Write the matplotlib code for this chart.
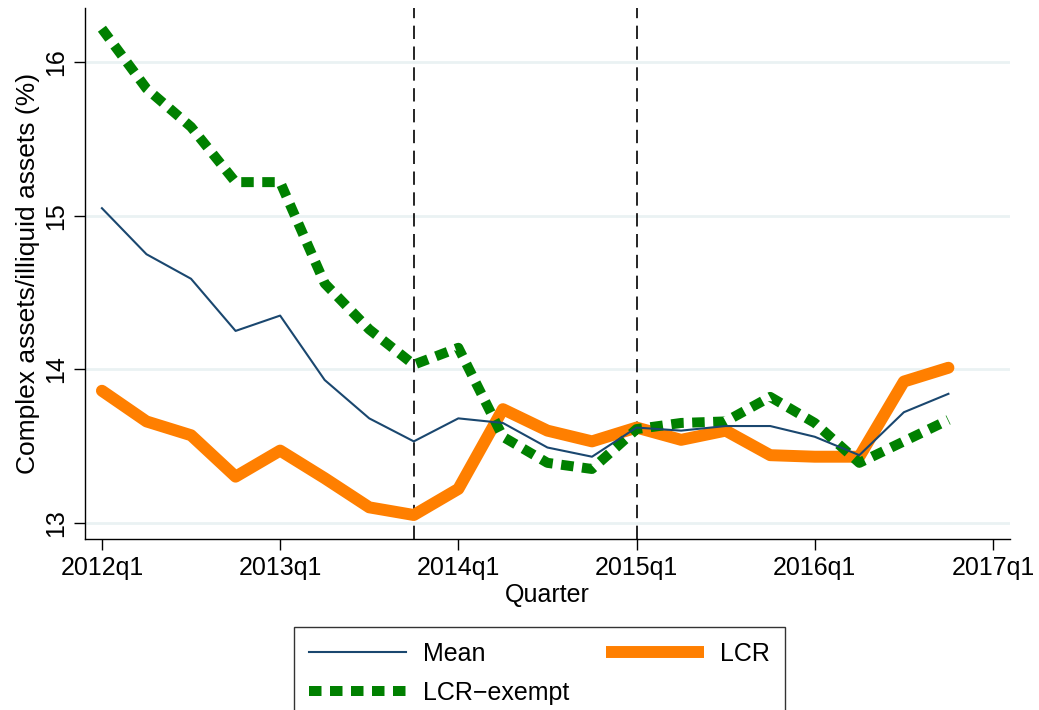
import matplotlib
matplotlib.use("Agg")
import matplotlib.pyplot as plt
from matplotlib.lines import Line2D

# quarterly series, 2012q1 .. 2016q4
quarters = ["2012q1", "2012q2", "2012q3", "2012q4",
            "2013q1", "2013q2", "2013q3", "2013q4",
            "2014q1", "2014q2", "2014q3", "2014q4",
            "2015q1", "2015q2", "2015q3", "2015q4",
            "2016q1", "2016q2", "2016q3", "2016q4"]

mean = [15.05, 14.75, 14.59, 14.25, 14.35, 13.93, 13.68, 13.53,
        13.68, 13.65, 13.49, 13.43, 13.62, 13.60, 13.63, 13.63,
        13.56, 13.44, 13.72, 13.84]

lcr = [13.86, 13.66, 13.57, 13.30, 13.47, 13.29, 13.10, 13.05,
       13.22, 13.74, 13.60, 13.53, 13.62, 13.54, 13.60, 13.44,
       13.43, 13.43, 13.92, 14.01]

lcr_exempt = [16.22, 15.83, 15.58, 15.22, 15.22, 14.56, 14.26, 14.03,
              14.14, 13.56, 13.39, 13.35, 13.61, 13.65, 13.66, 13.82,
              13.65, 13.39, 13.53, 13.67]

xtick_labels = ["2012q1", "2013q1", "2014q1", "2015q1", "2016q1", "2017q1"]
yticks = [13, 14, 15, 16]
event_quarters = ["2013q4", "2015q1"]

plt.rcParams["font.family"] = ["Liberation Sans", "DejaVu Sans"]

fig = plt.figure(figsize=(10.39, 7.10), dpi=100)
ax = fig.add_axes([0.0818, 0.2405, 0.8902, 0.748])

x = list(range(len(quarters)))

for yv in yticks:
    ax.axhline(yv, color="#eaf2f3", lw=2, zorder=0)

for q in event_quarters:
    ax.axvline(quarters.index(q), color="black", lw=1.2, dashes=(8, 4.5), zorder=1)

l_mean, = ax.plot(x, mean, color="#1a476f", lw=1.5, label="Mean", zorder=3)
l_lcr, = ax.plot(x, lcr, color="#ff7f00", lw=8.6, label="LCR",
                 solid_capstyle="round", solid_joinstyle="round", zorder=2)
l_ex, = ax.plot(x, lcr_exempt, color="#008000", lw=7.2, label="LCR\u2212exempt",
                dashes=(1.25, 0.85), dash_capstyle="butt", zorder=2)

ax.set_xlim(-0.38, 20.38)
ax.set_ylim(12.892, 16.354)

ax.set_xticks([i * 4 for i in range(len(xtick_labels))])
ax.set_xticklabels(xtick_labels, fontsize=18)
ax.set_yticks(yticks)
ax.set_yticklabels([str(v) for v in yticks], fontsize=18, rotation=90, va="center")
ax.tick_params(axis="both", length=8, width=1, color="black", pad=4)

for side in ["top", "right"]:
    ax.spines[side].set_visible(False)
for side in ["left", "bottom"]:
    ax.spines[side].set_linewidth(1)

ax.set_xlabel("Quarter", fontsize=18, labelpad=2)
ax.set_ylabel("Complex assets/illiquid assets (%)", fontsize=19, labelpad=3)

# legend proxy for the orange line, square ends like the original
lcr_handle = Line2D([], [], color="#ff7f00", lw=8.6, solid_capstyle="butt")

leg = fig.legend([l_mean, l_ex, lcr_handle], ["Mean", "LCR\u2212exempt", "LCR"],
                 ncol=2, loc="upper center", bbox_to_anchor=(0.5193, 0.1169),
                 borderaxespad=0,
                 fontsize=18, handlelength=3.9, handletextpad=0.65,
                 columnspacing=1.5, labelspacing=0.6, borderpad=0.6,
                 frameon=True, fancybox=False, edgecolor="black")
leg.get_frame().set_linewidth(1)

fig.savefig("out.png", dpi=100)
